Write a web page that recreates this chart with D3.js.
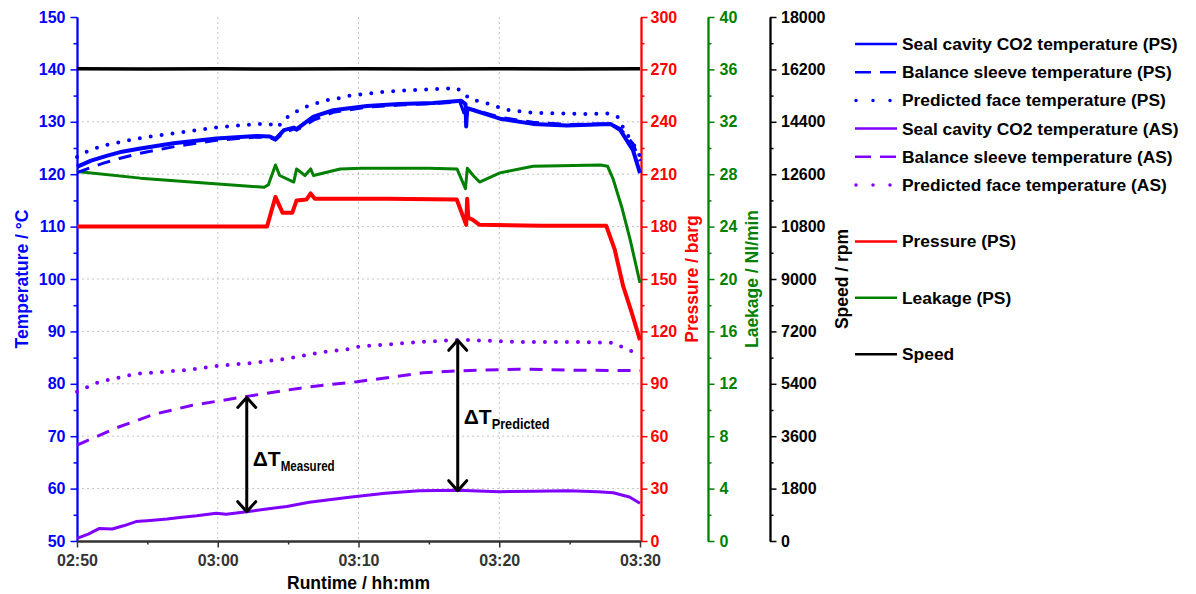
<!DOCTYPE html>
<html>
<head>
<meta charset="utf-8">
<script src="https://cdn.jsdelivr.net/npm/d3@7"></script>
<style>
body { margin: 0; background: #fff; }
svg text { font-family: "Liberation Sans", Arial, sans-serif; font-weight: bold; }
</style>
</head>
<body>
<svg width="1196" height="594"></svg>
<script>
// time is in minutes after 02:50
var speedT = [0, 5, 10, 15, 20, 25, 30, 35, 40];
var speedV = [16220, 16215, 16225, 16210, 16220, 16215, 16225, 16215, 16220];

var pressT = [0, 7, 13.5, 14.1, 14.6, 15.3, 15.6, 16.3, 16.6, 16.9, 22, 26.98, 27.65, 27.72, 27.8, 28.1, 28.6, 33, 37.6, 38.2, 38.8, 39.4, 40];
var pressV = [180, 180, 180, 197, 188, 188, 195, 195.5, 199, 196, 196, 195.5, 181, 196, 185, 184, 181, 180.5, 180.5, 167, 146, 131, 115];

var leakT = [0, 4.5, 9.3, 13.3, 13.6, 14.1, 14.4, 15.4, 15.6, 16.2, 16.6, 16.8, 18.7, 20.2, 25, 27.0, 27.6, 27.73, 28.15, 28.6, 30.05, 32.4, 37.2, 37.7, 38.1, 38.7, 39.3, 40];
var leakV = [28.2, 27.7, 27.3, 27.0, 27.2, 28.7, 27.9, 27.4, 28.4, 27.9, 28.4, 27.9, 28.4, 28.45, 28.45, 28.4, 26.9, 28.45, 27.9, 27.4, 28.1, 28.6, 28.7, 28.6, 27.6, 25.5, 23.0, 19.7];

var sealPsT = [0, 1, 2.1, 3.2, 4.5, 6.85, 9.9, 12.8, 13.7, 14.1, 14.7, 15.4, 15.6, 16.8, 18.2, 20.6, 22.9, 25.3, 27.3, 27.6, 27.65, 27.72, 28.2, 30.05, 32.4, 34.8, 37.9, 38.6, 39.5, 40];
var sealPsV = [121.4, 122.6, 123.5, 124.3, 124.9, 125.9, 126.8, 127.3, 127.2, 126.7, 128.4, 128.9, 128.6, 131.0, 132.2, 133.0, 133.4, 133.6, 134.0, 133.4, 129.1, 132.6, 132.2, 130.6, 129.6, 129.3, 129.6, 128.4, 124.6, 120.2];

var sleevePsT = [0, 1, 2, 3, 4.5, 7, 10, 12.8, 13.7, 14.1, 14.7, 15.4, 15.6, 16.8, 18.2, 20.6, 22.9, 25.3, 27.2, 27.65, 27.8, 28.2, 30, 32.4, 34.8, 37.9, 38.6, 39.5, 40];
var sleevePsV = [120.3, 121.3, 122.2, 123.0, 124.0, 125.3, 126.5, 127.1, 127.0, 126.5, 128.0, 128.6, 128.4, 130.3, 131.8, 132.8, 133.2, 133.5, 133.8, 130.5, 132.4, 132.3, 130.9, 129.9, 129.5, 129.6, 128.7, 125.8, 122.5];

var facePsT = [0, 0.9, 2.1, 4.5, 6.85, 9.9, 12.8, 13.7, 14.2, 15.1, 16.3, 17.5, 18.8, 19.4, 21.8, 24.1, 27.0, 28.0, 28.8, 30.5, 32.4, 35.9, 37.7, 38.4, 38.9, 39.8, 40];
var facePsV = [123.3, 124.6, 125.6, 126.9, 127.8, 128.9, 129.6, 129.6, 128.9, 131.3, 132.9, 134.0, 134.6, 135.0, 135.7, 136.1, 136.4, 134.2, 133.8, 132.3, 131.7, 131.5, 131.6, 131.0, 128.4, 124.6, 123.3];

var sealAsT = [0, 0.8, 1.6, 2.5, 3.3, 4.2, 5.2, 6.4, 7.3, 8.5, 9.9, 10.6, 12.06, 13.2, 14.9, 16.5, 19.2, 21.9, 24.3, 27.0, 30, 32.5, 34.9, 37, 38.1, 39.25, 40];
var sealAsV = [50.5, 51.3, 52.4, 52.3, 52.9, 53.7, 53.9, 54.2, 54.5, 54.8, 55.3, 55.1, 55.6, 56.0, 56.6, 57.4, 58.3, 59.1, 59.6, 59.7, 59.4, 59.5, 59.6, 59.4, 59.2, 58.4, 57.2];

var sleeveAsT = [0, 2.8, 5.5, 8.2, 12.06, 16.4, 19.9, 24.6, 27.3, 31.3, 35.4, 40];
var sleeveAsV = [68.3, 71.6, 74.2, 75.9, 77.6, 79.4, 80.4, 82.1, 82.5, 82.8, 82.6, 82.5];

var faceAsT = [0, 1.6, 4.2, 7.7, 9.9, 12.5, 14.9, 17.3, 19.2, 20.0, 24.5, 27.3, 31.3, 35.4, 38.1, 40];
var faceAsV = [78.5, 80.4, 81.9, 82.6, 83.4, 84.0, 84.8, 86.0, 86.6, 87.1, 88.0, 88.4, 88.0, 88.0, 87.8, 85.5];

// delta T arrows
var arrowT = [12.06, 27.05];
var arrowLow = [55.6, 59.6];
var arrowHigh = [77.4, 88.3];
var arrowSub = ["Measured", "Predicted"];
var arrowTextT = [64.3, 72.4];

var legendLabels = ["Seal cavity CO2 temperature (PS)", "Balance sleeve temperature (PS)", "Predicted face temperature (PS)",
  "Seal cavity CO2 temperature (AS)", "Balance sleeve temperature (AS)", "Predicted face temperature (AS)",
  "Pressure (PS)", "Leakage (PS)", "Speed"];

var svg = d3.select("svg");
var plotL = 77, plotR = 640, plotT = 17, plotB = 541;

var blue = "#0000ff", violet = "#8000ff", red = "#ff0000", green = "#008000";

var x = d3.scaleLinear().domain([0, 40]).range([plotL, plotR]);
var yT = d3.scaleLinear().domain([50, 150]).range([plotB, plotT]);
var yP = d3.scaleLinear().domain([0, 300]).range([plotB, plotT]);
var yL = d3.scaleLinear().domain([0, 40]).range([plotB, plotT]);
var yS = d3.scaleLinear().domain([0, 18000]).range([plotB, plotT]);

var timeFmt = d3.timeFormat("%H:%M");
function fmtTime(t) { return timeFmt(new Date(2000, 0, 1, 2, 50 + t)); }

//////////// GRID ////////////
var grid = svg.append("g").attr("stroke", "#c4c4c4").attr("stroke-width", 1).attr("stroke-dasharray", "2,3");
grid.selectAll("line.h").data(d3.range(60, 141, 10)).enter().append("line")
  .attr("x1", plotL).attr("x2", plotR)
  .attr("y1", function(d) { return yT(d); }).attr("y2", function(d) { return yT(d); });
grid.selectAll("line.v").data([10, 20, 30]).enter().append("line")
  .attr("y1", plotT).attr("y2", plotB)
  .attr("x1", function(d) { return x(d); }).attr("x2", function(d) { return x(d); });

//////////// AXES ////////////
function styleAxis(g, color, width) {
  g.selectAll("path.domain").attr("stroke", color).attr("stroke-width", width);
  g.selectAll(".tick line").attr("stroke", color).attr("stroke-width", 1.5);
  g.selectAll(".tick text").attr("fill", color).style("font-size", "16px");
}

function addAxis(axisFn, scale, pos, major, minor, fmt, color, pad) {
  var g1 = svg.append("g").attr("transform", pos)
    .call(axisFn(scale).tickValues(minor).tickSize(3.5).tickSizeOuter(0).tickFormat(""));
  styleAxis(g1, color, 1.8);
  var g2 = svg.append("g").attr("transform", pos)
    .call(axisFn(scale).tickValues(major).tickSize(6.5).tickSizeOuter(0).tickPadding(pad).tickFormat(fmt));
  styleAxis(g2, color, 1.8);
  return g2;
}

addAxis(d3.axisLeft, yT, "translate(" + plotL + ",0)", d3.range(50, 151, 10), d3.range(55, 150, 10), d3.format("d"), blue, 5);
addAxis(d3.axisRight, yP, "translate(" + (plotR + 1) + ",0)", d3.range(0, 301, 30), d3.range(15, 300, 30), d3.format("d"), red, 3);
addAxis(d3.axisRight, yL, "translate(708,0)", d3.range(0, 41, 4), d3.range(2, 40, 4), d3.format("d"), green, 5);
addAxis(d3.axisRight, yS, "translate(770,0)", d3.range(0, 18001, 1800), d3.range(900, 18000, 1800), d3.format("d"), "#000", 4.5);
addAxis(d3.axisBottom, x, "translate(0," + plotB + ")", d3.range(0, 41, 10), d3.range(5, 40, 10), fmtTime, "#333", 7);

function axisTitle(txt, cx, color) {
  svg.append("text").attr("transform", "translate(" + cx + "," + ((plotT + plotB) / 2) + ") rotate(-90)")
    .attr("text-anchor", "middle").attr("dy", "0.35em").attr("fill", color)
    .style("font-size", "17.5px").text(txt);
}
axisTitle("Temperature / °C", 22, blue);
axisTitle("Pressure / barg", 692, red);
axisTitle("Laekage / Nl/min", 752, green);
axisTitle("Speed / rpm", 842, "#000");

svg.append("text").attr("x", (plotL + plotR) / 2).attr("y", 589).attr("text-anchor", "middle")
  .style("font-size", "17.5px").attr("fill", "#000").text("Runtime / hh:mm");

//////////// SERIES ////////////
function drawLine(ts, vs, yScale, color, width, dash, cap) {
  var pts = ts.map(function(t, i) { return [t, vs[i]]; });
  var line = d3.line().x(function(d) { return x(d[0]); }).y(function(d) { return yScale(d[1]); });
  svg.append("path").datum(pts)
    .attr("d", line)
    .attr("fill", "none")
    .attr("stroke", color)
    .attr("stroke-width", width)
    .attr("stroke-linejoin", "round")
    .attr("stroke-linecap", cap || "butt")
    .attr("stroke-dasharray", dash || null);
}

drawLine(leakT, leakV, yL, green, 3);
drawLine(pressT, pressV, yP, red, 4);
drawLine(faceAsT, faceAsV, yT, violet, 4, "0,11", "round");
drawLine(sleeveAsT, sleeveAsV, yT, violet, 3, "13,9");
drawLine(sealAsT, sealAsV, yT, violet, 3);
drawLine(facePsT, facePsV, yT, blue, 4, "0,11", "round");
drawLine(sleevePsT, sleevePsV, yT, blue, 3, "13,9");
drawLine(sealPsT, sealPsV, yT, blue, 4);
drawLine(speedT, speedV, yS, "#000", 3.5);

//////////// DELTA T ARROWS ////////////
arrowT.forEach(function(t, i) {
  var ax = x(t), y1 = yT(arrowHigh[i]), y2 = yT(arrowLow[i]);
  var g = svg.append("g").attr("stroke", "#000").attr("stroke-width", 3).attr("fill", "none")
    .attr("stroke-linecap", "round").attr("stroke-linejoin", "round");
  g.append("line").attr("x1", ax).attr("x2", ax).attr("y1", y1 + 1).attr("y2", y2 - 1);
  g.append("path").attr("d", "M" + (ax - 9) + "," + (y1 + 10) + "L" + ax + "," + y1 + "L" + (ax + 9) + "," + (y1 + 10));
  g.append("path").attr("d", "M" + (ax - 9) + "," + (y2 - 10) + "L" + ax + "," + y2 + "L" + (ax + 9) + "," + (y2 - 10));
  var tx = svg.append("text").attr("x", ax + 6).attr("y", yT(arrowTextT[i])).attr("fill", "#000");
  tx.append("tspan").style("font-size", "21px").text("ΔT");
  tx.append("tspan").style("font-size", "14.5px").attr("dy", 5)
    .attr("textLength", i === 0 ? 54 : 58).attr("lengthAdjust", "spacingAndGlyphs").text(arrowSub[i]);
});

//////////// LEGEND ////////////
var legColors = [blue, blue, blue, violet, violet, violet, red, green, "#000"];
var legDash = [null, "16,9", "0,17", null, "16,9", "0,17", null, null, null];
var legSlot = [0, 1, 2, 3, 4, 5, 7, 9, 11];
var leg = svg.append("g").selectAll("g").data(legendLabels).enter().append("g")
  .attr("transform", function(d, i) { return "translate(855," + (44 + legSlot[i] * 28.2) + ")"; });
leg.append("line").attr("x1", function(d, i) { return legDash[i] && legDash[i][0] === "0" ? 1 : 0; }).attr("x2", 42)
  .attr("stroke", function(d, i) { return legColors[i]; })
  .attr("stroke-width", function(d, i) { return legDash[i] && legDash[i][0] === "0" ? 3.5 : 2.5; })
  .attr("stroke-linecap", function(d, i) { return legDash[i] && legDash[i][0] === "0" ? "round" : "butt"; })
  .attr("stroke-dasharray", function(d, i) { return legDash[i]; });
leg.append("text").attr("x", 47).attr("dy", "0.35em").style("font-size", "17.4px").attr("fill", "#000")
  .text(function(d) { return d; });
</script>
</body>
</html>
